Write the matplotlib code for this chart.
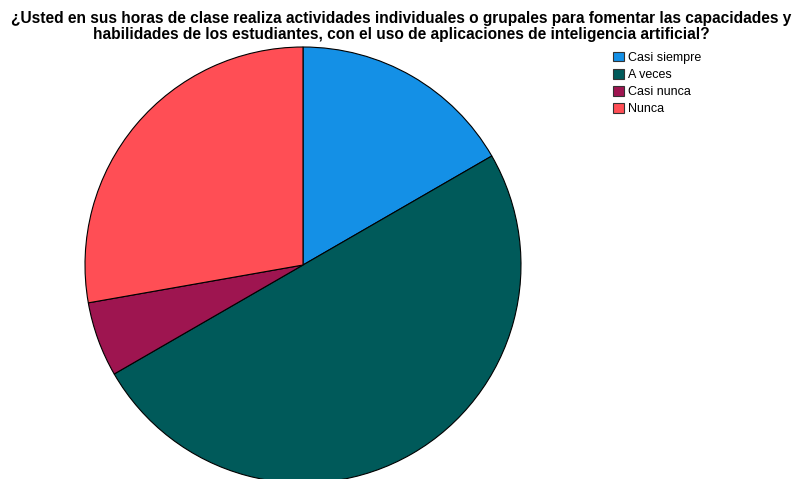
import matplotlib.pyplot as plt
from matplotlib.patches import Patch

plt.rcParams['font.family'] = ['Liberation Sans', 'DejaVu Sans']

labels = ['Casi siempre', 'A veces', 'Casi nunca', 'Nunca']
counts = [3, 9, 1, 5]
colors = ['#1490e6', '#005a5a', '#9e1550', '#ff4e55']

title = ('¿Usted en sus horas de clase realiza actividades individuales o grupales para fomentar las capacidades y\n'
         'habilidades de los estudiantes, con el uso de aplicaciones de inteligencia artificial?')

fig = plt.figure(figsize=(7.97, 4.79), dpi=100)
W, H = 797, 479
cx, cy, r = 303, 265, 218
ax = fig.add_axes([(cx - r) / W, (H - cy - r) / H, 2 * r / W, 2 * r / H])
ax.pie(counts, colors=colors, startangle=90, counterclock=False,
       wedgeprops={'edgecolor': 'black', 'linewidth': 0.8})
ax.set_xlim(-1, 1)
ax.set_ylim(-1, 1)
ax.set_aspect('auto')
ax.axis('off')

fig.text(401 / W, 1 - 26.5 / H, title, ha='center', va='center', fontsize=11.2,
         fontweight='bold', linespacing=1.07)

handles = [Patch(facecolor=c, edgecolor='#333333', linewidth=0.8) for c in colors]
fig.legend(handles, labels, loc='upper left', bbox_to_anchor=(613 / W, 1 - 51.5 / H),
           frameon=False, fontsize=9, handlelength=0.85, handleheight=0.85,
           handletextpad=0.35, labelspacing=0.38, borderpad=0, borderaxespad=0)

fig.savefig('out.png', dpi=100)
